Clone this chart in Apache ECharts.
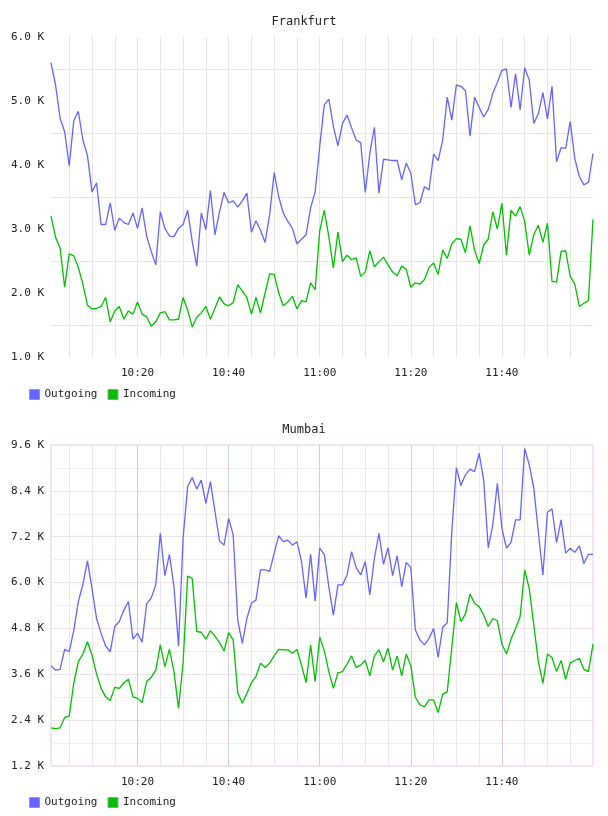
<!DOCTYPE html>
<html>
<head>
<meta charset="utf-8">
<script src="https://cdn.jsdelivr.net/npm/echarts@6/dist/echarts.min.js"></script>
<style>
  html, body { margin: 0; padding: 0; background: #fff; }
  #chart { width: 608px; height: 816px; }
</style>
</head>
<body>
<div id="chart"></div>
<script>
// minutes from 10:01 to 12:00
const times = []
for (let m = 61; m <= 180; m++) {
  const h = 9 + Math.floor(m / 60)
  const mm = m % 60
  times.push(h + ':' + (mm < 10 ? '0' : '') + mm)
}

const frankfurtOut = [
  5600, 5250, 4730, 4520, 3990, 4690, 4840, 4390, 4150, 3580,
  3720, 3070, 3070, 3410, 2980, 3170, 3100, 3070, 3250, 3010,
  3330, 2890, 2650, 2440, 3270, 3010, 2890, 2880, 3010, 3070,
  3290, 2810, 2420, 3250, 2990, 3600, 2910, 3270, 3570, 3410,
  3440, 3340, 3440, 3560, 2950, 3130, 2980, 2790, 3220, 3880,
  3500, 3250, 3120, 3010, 2770, 2840, 2910, 3330, 3580, 4290,
  4940, 5030, 4600, 4300, 4650, 4780, 4580, 4390, 4350, 3570,
  4180, 4590, 3560, 4090, 4080, 4070, 4070, 3770, 4030, 3870,
  3380, 3410, 3660, 3610, 4170, 4070, 4390, 5060, 4700, 5250,
  5230, 5160, 4450, 5060, 4900, 4750, 4870, 5120, 5290, 5480,
  5500, 4900, 5430, 4860, 5520, 5330, 4650, 4800, 5130, 4720,
  5230, 4050, 4270, 4260, 4680, 4100, 3820, 3690, 3730, 4180
]
const frankfurtIn = [
  3200, 2870, 2700, 2090, 2610, 2580, 2400, 2140, 1810, 1750,
  1760, 1790, 1930, 1550, 1720, 1790, 1590, 1720, 1670, 1860,
  1670, 1630, 1480, 1550, 1690, 1710, 1580, 1580, 1590, 1930,
  1730, 1470, 1620, 1690, 1790, 1590, 1760, 1940, 1830, 1800,
  1850, 2130, 2030, 1930, 1670, 1930, 1690, 2000, 2300, 2290,
  2000, 1800, 1860, 1950, 1750, 1880, 1860, 2160, 2050, 2970,
  3290, 2880, 2390, 2950, 2490, 2590, 2520, 2550, 2260, 2330,
  2660, 2410, 2490, 2560, 2440, 2330, 2270, 2420, 2370, 2090,
  2160, 2140, 2210, 2400, 2470, 2290, 2670, 2540, 2770, 2850,
  2840, 2630, 3050, 2670, 2460, 2750, 2840, 3270, 3000, 3400,
  2590, 3290, 3200, 3350, 3120, 2590, 2910, 3060, 2790, 3090,
  2180, 2170, 2650, 2660, 2260, 2140, 1790, 1840, 1880, 3150
]
const mumbaiOut = [
  3820, 3710, 3730, 4250, 4190, 4750, 5500, 5950, 6570, 5850,
  5060, 4670, 4340, 4190, 4850, 4980, 5280, 5500, 4520, 4670,
  4440, 5440, 5600, 5940, 7290, 6180, 6740, 5890, 4340, 7160,
  8510, 8750, 8450, 8680, 8070, 8640, 7860, 7090, 6980, 7680,
  7250, 5020, 4410, 5060, 5460, 5540, 6330, 6330, 6290, 6770,
  7230, 7070, 7110, 6980, 7070, 6550, 5590, 6740, 5520, 6900,
  6740, 5890, 5150, 5940, 5940, 6200, 6810, 6390, 6200, 6550,
  5680, 6630, 7290, 6480, 6910, 6180, 6700, 5890, 6530, 6390,
  4760, 4500, 4370, 4540, 4800, 4040, 4830, 4950, 7330, 9010,
  8540, 8820, 8970, 8900, 9380, 8680, 6910, 7510, 8600, 7420,
  6900, 7050, 7640, 7640, 9510, 9080, 8470, 7330, 6200, 7840,
  7930, 7050, 7640, 6770, 6900, 6790, 6960, 6500, 6740, 6740
]
const mumbaiIn = [
  2200, 2180, 2200, 2470, 2510, 3360, 3930, 4130, 4450, 4100,
  3610, 3230, 3010, 2910, 3260, 3230, 3380, 3470, 3010, 2970,
  2860, 3410, 3520, 3710, 4370, 3800, 4250, 3670, 2710, 3890,
  6170, 6110, 4720, 4700, 4520, 4740, 4600, 4430, 4210, 4690,
  4500, 3120, 2840, 3100, 3380, 3540, 3890, 3780, 3890, 4080,
  4250, 4240, 4240, 4150, 4250, 3840, 3380, 4370, 3410, 4570,
  4220, 3670, 3230, 3640, 3670, 3870, 4080, 3780, 3840, 3960,
  3560, 4080, 4240, 3930, 4280, 3710, 4080, 3560, 4130, 3820,
  3000, 2800, 2750, 2930, 2930, 2600, 3080, 3140, 4300, 5480,
  4980, 5180, 5700, 5460, 5370, 5150, 4850, 5060, 5000, 4390,
  4130, 4520, 4800, 5110, 6330, 5850, 4890, 3930, 3360, 4130,
  4040, 3670, 3960, 3470, 3900, 3960, 4020, 3730, 3670, 4390
]

const FONT = 'DejaVu Sans Mono'
const BLUE = '#6464ff'
const GREEN = '#00c000'

function everyMinutes(step) {
  return (index, value) => {
    if (index === times.length - 1) return false
    return parseInt(value.split(':')[1], 10) % step === 0
  }
}

function kLabel(step) {
  return (v) => (v % step === 0 ? (v / 1000).toFixed(1) + ' K' : '')
}

function makeX(gridIndex, lineColors) {
  return {
    type: 'category',
    gridIndex: gridIndex,
    data: times,
    boundaryGap: false,
    axisLine: { show: false },
    axisTick: { show: false },
    axisLabel: {
      interval: everyMinutes(20),
      margin: 11,
      fontFamily: FONT,
      fontSize: 11,
      color: '#222',
    },
    splitLine: {
      show: true,
      interval: everyMinutes(5),
      lineStyle: { color: lineColors, width: 1 },
    },
  }
}

const chart = echarts.init(document.getElementById('chart'))

chart.setOption({
  animation: false,
  title: [
    { text: 'Frankfurt', left: 'center', top: 11,
      textStyle: { fontFamily: FONT, fontSize: 12, fontWeight: 'normal', color: '#222' } },
    { text: 'Mumbai', left: 'center', top: 419,
      textStyle: { fontFamily: FONT, fontSize: 12, fontWeight: 'normal', color: '#222' } },
  ],
  legend: [
    { left: 24, top: 384, itemWidth: 10, itemHeight: 10, itemGap: 10, icon: 'rect',
      itemStyle: { borderColor: '#999', borderWidth: 1 },
      textStyle: { fontFamily: FONT, fontSize: 11, color: '#222' },
      data: ['Outgoing', 'Incoming'] },
    { left: 24, top: 792, itemWidth: 10, itemHeight: 10, itemGap: 10, icon: 'rect',
      itemStyle: { borderColor: '#999', borderWidth: 1 },
      textStyle: { fontFamily: FONT, fontSize: 11, color: '#222' },
      data: ['Outgoing', 'Incoming'] },
  ],
  grid: [
    { left: 51, right: 15, top: 37, height: 320 },
    { left: 51, right: 15, top: 445, height: 321, show: true, borderColor: '#e2cce2', borderWidth: 1 },
  ],
  xAxis: [
    makeX(0, ['#e6e6e6']),
    makeX(1, ['#ece6ec', '#ece6ec', '#ece6ec', '#dccadc']),
  ],
  yAxis: [
    {
      type: 'value', gridIndex: 0, min: 1000, max: 6000, interval: 500,
      axisLine: { show: false }, axisTick: { show: false },
      axisLabel: { formatter: kLabel(1000), margin: 7, fontFamily: FONT, fontSize: 11, color: '#222' },
      splitLine: { lineStyle: { color: ['rgba(0,0,0,0)', '#e6e6e6'] } },
    },
    {
      type: 'value', gridIndex: 1, min: 1200, max: 9600, interval: 600,
      axisLine: { show: false }, axisTick: { show: false },
      axisLabel: { formatter: kLabel(1200), margin: 7, fontFamily: FONT, fontSize: 11, color: '#222' },
      splitLine: { lineStyle: { color: ['#f0e0ef', '#f2eef2'] } },
    },
  ],
  series: [
    { name: 'Outgoing', type: 'line', xAxisIndex: 0, yAxisIndex: 0, data: frankfurtOut,
      showSymbol: false, color: BLUE, lineStyle: { width: 1.3 } },
    { name: 'Incoming', type: 'line', xAxisIndex: 0, yAxisIndex: 0, data: frankfurtIn,
      showSymbol: false, color: GREEN, lineStyle: { width: 1.3 } },
    { name: 'Outgoing', type: 'line', xAxisIndex: 1, yAxisIndex: 1, data: mumbaiOut,
      showSymbol: false, color: BLUE, lineStyle: { width: 1.3 } },
    { name: 'Incoming', type: 'line', xAxisIndex: 1, yAxisIndex: 1, data: mumbaiIn,
      showSymbol: false, color: GREEN, lineStyle: { width: 1.3 } },
  ],
})
</script>
</body>
</html>
